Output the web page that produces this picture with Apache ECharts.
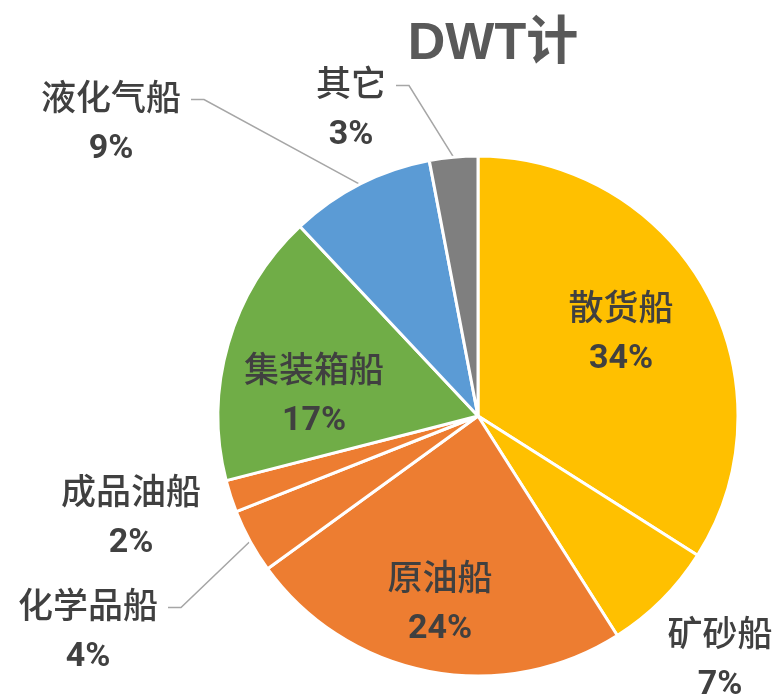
<!DOCTYPE html>
<html>
<head>
<meta charset="utf-8">
<script src="https://cdn.jsdelivr.net/npm/echarts@6/dist/echarts.min.js"></script>
<style>
  html, body { margin: 0; padding: 0; background: #fff; }
  #main { width: 782px; height: 697px; }
</style>
</head>
<body>
<div id="main"></div>
<script>
// 船型 DWT 占比
var categories = ['散货船', '矿砂船', '原油船', '化学品船', '成品油船', '集装箱船', '液化气船', '其它'];
var shares = [34, 7, 24, 4, 2, 17, 9, 3];

var sliceColors = ['#FFC000', '#FFC000', '#ED7D31', '#ED7D31', '#ED7D31', '#70AD47', '#5B9BD5', '#7F7F7F'];
// 标签放在扇区内的类别
var insideNames = ['散货船', '原油船', '集装箱船'];
// 不画引导线的外部标签
var noLineNames = ['矿砂船', '成品油船'];
// 标签中心位置 (px)
var labelPos = {
    '散货船': [621, 333],
    '矿砂船': [720, 659],
    '原油船': [440, 603],
    '化学品船': [88, 631],
    '成品油船': [131, 517],
    '集装箱船': [314, 395],
    '液化气船': [111, 123],
    '其它': [351, 109]
};
var LINE_H = 53;

var myChart = echarts.init(document.getElementById('main'));

var pieData = categories.map(function (name, i) {
    var inside = insideNames.indexOf(name) >= 0;
    return {
        name: name,
        value: shares[i],
        itemStyle: { color: sliceColors[i] },
        label: { position: inside ? 'inside' : 'outside' },
        labelLine: { show: !inside && noLineNames.indexOf(name) < 0 }
    };
});

var option = {
    backgroundColor: '#fff',
    title: {
        text: 'DWT计',
        left: 488,
        top: 14,
        textAlign: 'center',
        textStyle: {
            fontFamily: 'Liberation Sans, Noto Sans CJK SC',
            fontSize: 52,
            fontWeight: 'bold',
            color: '#595959'
        }
    },
    series: [{
        type: 'pie',
        center: [478, 416],
        radius: 260,
        startAngle: 90,
        clockwise: true,
        avoidLabelOverlap: false,
        itemStyle: {
            borderColor: '#fff',
            borderWidth: 3
        },
        label: {
            show: true,
            formatter: '{n|{b}}\n{p|{d}%}',
            color: '#404040',
            rich: {
                n: {
                    fontFamily: 'Noto Sans CJK SC',
                    fontSize: 35,
                    fontWeight: 500,
                    lineHeight: LINE_H,
                    color: '#404040',
                    align: 'center'
                },
                p: {
                    fontFamily: 'Roboto',
                    fontSize: 34,
                    fontWeight: 'bold',
                    lineHeight: LINE_H,
                    color: '#404040',
                    align: 'center'
                }
            }
        },
        labelLine: {
            length: 20,
            length2: 15,
            lineStyle: { color: '#A6A6A6', width: 1.5 }
        },
        labelLayout: function (params) {
            var name = categories[params.dataIndex];
            var p = labelPos[name];
            var out = { x: p[0], y: p[1], align: 'center', verticalAlign: 'middle' };
            var pts = params.labelLinePoints;
            if (pts && insideNames.indexOf(name) < 0 && noLineNames.indexOf(name) < 0) {
                // 引导线: 扇区外缘中点 -> 名称行右侧
                var nameY = p[1] - LINE_H / 2 + 3;
                var endX = p[0] + params.labelRect.width / 2 + 10;
                out.labelLinePoints = [pts[0], [endX + 13, nameY], [endX, nameY]];
            }
            return out;
        },
        data: pieData
    }]
};

myChart.setOption(option);
</script>
</body>
</html>
